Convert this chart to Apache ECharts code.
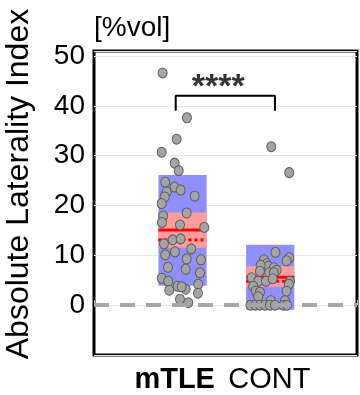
<!DOCTYPE html>
<html>
<head>
<meta charset="utf-8">
<script src="https://cdn.jsdelivr.net/npm/echarts@6/dist/echarts.min.js"></script>
<style>html,body{margin:0;padding:0;background:#fff;}#c{width:360px;height:395px;}</style>
</head>
<body>
<div id="c"></div>
<script>
// ---- data ----
const categories = ['mTLE', 'CONT'];
const catPos = [1, 2];
const boxCenter = [1.01, 2.01];
const sdLow = [3.9, -0.9];
const sdHigh = [26.1, 12.1];
const ciLow = [11.5, 3.7];
const ciHigh = [18.6, 7.8];
const meanVal = [15.1, 5.6];
const medianVal = [13.1, 4.8];
const yTicks = [0, 10, 20, 30, 40, 50];

const mtleX = [0.783,1.060,0.943,0.772,0.920,0.966,0.813,0.920,0.989,0.829,0.806,1.148,0.772,1.057,0.790,0.775,0.981,1.258,0.897,0.989,0.798,1.109,0.924,0.813,1.057,1.220,0.844,1.046,1.209,0.772,0.847,0.954,1.046,0.859,1.189,1.186,0.981,1.075,1.000];
const mtleY = [46.6,37.6,33.3,30.7,28.5,27.0,24.7,23.7,23.1,22.7,21.7,21.9,20.4,18.5,17.9,16.6,16.1,15.6,13.1,13.3,12.3,11.3,10.7,10.1,9.3,9.1,7.6,7.2,6.5,5.4,4.8,3.8,3.2,3.0,4.2,2.4,1.2,0.5,3.7];

const contX = [2.022,2.227,2.070,2.227,2.197,1.938,1.969,1.987,1.901,2.052,2.083,1.893,1.999,2.052,1.798,1.873,1.961,2.038,2.235,2.223,1.816,1.844,1.893,2.197,1.873,2.178,2.018,1.785,1.842,1.893,1.950,2.007,2.064,2.161,2.201];
const contY = [31.8,26.6,10.6,9.5,8.9,9.1,8.3,7.8,8.0,7.5,7.0,6.8,6.5,6.5,5.5,4.8,4.8,5.3,4.8,4.2,3.8,2.8,2.6,2.8,1.7,0.9,0.9,0,0,0,0,0,0,0,0];

const bracketX = [0.932, 0.932, 2.064, 2.064];
const bracketY = [39, 42, 42, 39];
const starPos = [1.417, 43.6];
const starText = '****';

// ---- chart ----
const FONT = "'Liberation Sans', Arial, sans-serif";
const boxHalf = 0.275;
const chart = echarts.init(document.getElementById('c'), null, {renderer: 'canvas'});

const boxData = categories.map((c, i) => [boxCenter[i], sdLow[i], sdHigh[i], ciLow[i], ciHigh[i], meanVal[i], medianVal[i]]);

function renderBox(params, api) {
  const x = api.value(0);
  const a = api.coord([x - boxHalf, api.value(2)]);
  const b = api.coord([x + boxHalf, api.value(1)]);
  const c = api.coord([x - boxHalf, api.value(4)]);
  const d = api.coord([x + boxHalf, api.value(3)]);
  const m1 = api.coord([x - boxHalf, api.value(5)]);
  const m2 = api.coord([x + boxHalf, api.value(5)]);
  const q1 = api.coord([x - boxHalf, api.value(6)]);
  const q2 = api.coord([x + boxHalf, api.value(6)]);
  return {
    type: 'group',
    children: [
      {type: 'rect', shape: {x: a[0], y: a[1], width: b[0] - a[0], height: b[1] - a[1]}, style: {fill: '#8f8fff'}},
      {type: 'rect', shape: {x: c[0], y: c[1], width: d[0] - c[0], height: d[1] - c[1]}, style: {fill: '#ff9c9c'}},
      {type: 'line', shape: {x1: m1[0], y1: m1[1], x2: m2[0], y2: m2[1]}, style: {stroke: '#ff0000', lineWidth: 3}},
      {type: 'line', shape: {x1: q1[0], y1: q1[1], x2: q2[0], y2: q2[1]}, style: {stroke: '#ff0000', lineWidth: 3, lineDash: [3, 3]}}
    ]
  };
}

const option = {
  animation: false,
  backgroundColor: '#fff',
  grid: {left: 94, right: 3, top: 51, bottom: 40, show: true, borderColor: '#000', borderWidth: 3, backgroundColor: '#fff'},
  xAxis: {
    type: 'value', min: 0, max: 3, interval: 1,
    axisLine: {show: false},
    axisTick: {show: true, inside: true, length: 5, lineStyle: {color: '#bbbbbb'}},
    splitLine: {show: false},
    axisLabel: {
      margin: 10,
      fontSize: 29, color: '#000', fontFamily: FONT,
      formatter: function (v) {
        const i = catPos.indexOf(v);
        if (i < 0) return '';
        return i === 0 ? '{b|' + categories[i] + '}' : '{n|' + categories[i] + '}';
      },
      rich: {
        b: {fontSize: 29, fontWeight: 'bold', color: '#000', fontFamily: FONT, padding: [0, 14, 0, 0]},
        n: {fontSize: 29, color: '#000', fontFamily: FONT}
      }
    }
  },
  yAxis: {
    type: 'value', min: -10, max: 51, interval: 10,
    axisLine: {show: false},
    axisTick: {show: false},
    splitLine: {show: true, lineStyle: {color: '#e6e6e6', width: 1}},
    axisLabel: {
      margin: 9, fontSize: 28, color: '#000', fontFamily: FONT,
      formatter: function (v) { return yTicks.indexOf(v) >= 0 ? String(v) : ''; }
    }
  },
  graphic: [
    {type: 'text', x: 19, y: 184, rotation: Math.PI / 2,
      style: {text: 'Absolute Laterality Index', font: '32px ' + FONT, fill: '#000', textAlign: 'center', textVerticalAlign: 'middle'}},
    {type: 'text', x: 94, y: 28,
      style: {text: '[%vol]', font: '28px ' + FONT, fill: '#000', textAlign: 'left', textVerticalAlign: 'middle'}}
  ],
  series: [
    {
      type: 'custom', z: 2, renderItem: renderBox, data: boxData,
      encode: {x: 0, y: [1, 2]},
      markLine: {
        silent: true, symbol: ['none', 'none'], label: {show: false},
        lineStyle: {color: '#a6a6a6', width: 4, type: [15, 11]},
        data: [{yAxis: 0}]
      }
    },
    {
      type: 'scatter', z: 3, symbol: 'circle', symbolSize: [9, 10],
      itemStyle: {color: '#a4a4a4', borderColor: '#5c5c5c', borderWidth: 1, opacity: 1},
      data: mtleX.map((x, i) => [x, mtleY[i]])
    },
    {
      type: 'scatter', z: 3, symbol: 'circle', symbolSize: [9, 10],
      itemStyle: {color: '#a4a4a4', borderColor: '#5c5c5c', borderWidth: 1, opacity: 1},
      data: contX.map((x, i) => [x, contY[i]])
    },
    {
      type: 'line', z: 4, symbol: 'none',
      lineStyle: {color: '#000', width: 2},
      data: bracketX.map((x, i) => [x, bracketY[i]])
    },
    {
      type: 'scatter', z: 4, symbolSize: 0,
      label: {show: true, position: 'inside', formatter: starText, fontSize: 34, fontWeight: 'bold', color: '#000', fontFamily: FONT},
      data: [starPos]
    }
  ]
};
chart.setOption(option);
</script>
</body>
</html>
